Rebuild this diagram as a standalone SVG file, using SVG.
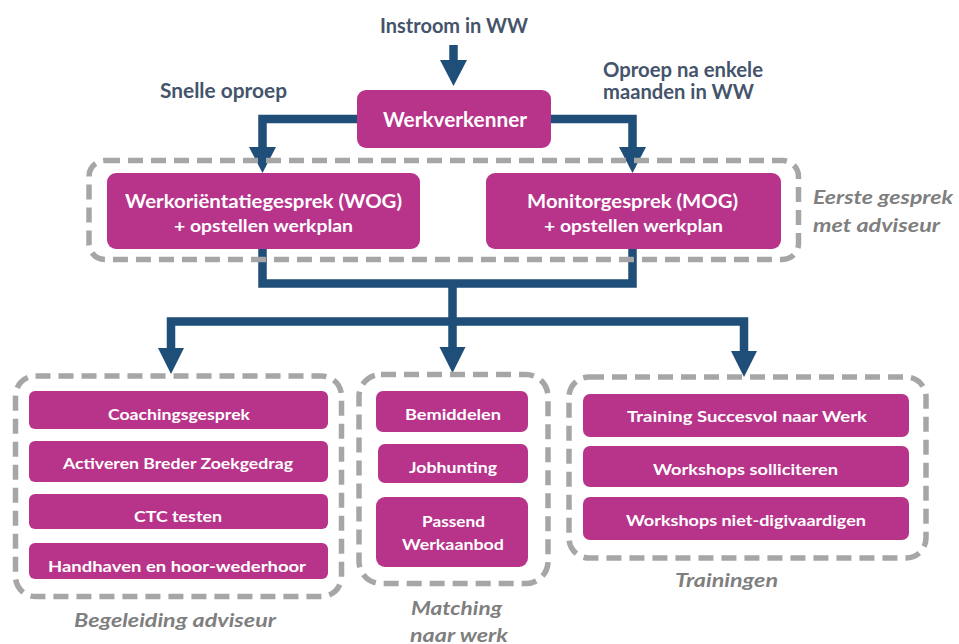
<svg xmlns="http://www.w3.org/2000/svg" width="959" height="644" viewBox="0 0 959 644">
<style>
.box{fill:#b8338a}
.bt{font-family:Lato,"Open Sans","Liberation Sans",sans-serif;font-weight:700;fill:#ffffff;text-anchor:middle}
.hd{font-family:Lato,"Open Sans","Liberation Sans",sans-serif;font-weight:700;fill:#44546a;text-anchor:middle;font-size:20px}
.grp{fill:none;stroke:#a6a6a6;stroke-width:5.5;stroke-dasharray:15 8}
.gl{font-family:Lato,"Open Sans","Liberation Sans",sans-serif;font-weight:700;font-style:italic;fill:#7f7f7f;text-anchor:middle;font-size:19px}
.ln{fill:none;stroke:#1f4e79;stroke-width:8.5}
.ah{fill:#1f4e79}
</style>
<rect width="959" height="644" fill="#ffffff"/>

<g id="labels">
<text class="hd" x="454" y="33" textLength="148" lengthAdjust="spacingAndGlyphs">Instroom in WW</text>
<text class="hd" x="223.5" y="98" textLength="127" lengthAdjust="spacingAndGlyphs">Snelle oproep</text>
<text class="hd" x="683" y="77" textLength="160" lengthAdjust="spacingAndGlyphs">Oproep na enkele</text>
<text class="hd" x="678.5" y="99" textLength="151" lengthAdjust="spacingAndGlyphs">maanden in WW</text>
</g>

<g id="connectors">
<path class="ln" d="M453.5,45 V62"/>
<polygon class="ah" points="440,60 467,60 453.5,86"/>
<path class="ln" d="M358,119 H262.5 V149"/>
<polygon class="ah" points="249,147 276,147 262.5,173"/>
<path class="ln" d="M550,119 H632.5 V149"/>
<polygon class="ah" points="619,147 646,147 632.5,173"/>
<path class="ln" d="M262.5,248 V283.5 H632.5 V248"/>
<path class="ln" d="M452.5,283.5 V321.5"/>
<path class="ln" d="M171,350 V321.5 H744 V352"/>
<path class="ln" d="M452.5,321.5 V349"/>
<polygon class="ah" points="158,348 184,348 171,374"/>
<polygon class="ah" points="439.5,347 465.5,347 452.5,373"/>
<polygon class="ah" points="731,351 757,351 744,377"/>
</g>

<g id="eerste-gesprek">
<rect class="grp" x="89" y="160.5" width="709.5" height="99" rx="16"/>
<text class="gl" x="883" y="204" textLength="140" lengthAdjust="spacingAndGlyphs">Eerste gesprek</text>
<text class="gl" x="876.5" y="232" textLength="127" lengthAdjust="spacingAndGlyphs">met adviseur</text>
</g>

<g id="werkverkenner">
<rect class="box" x="357" y="90" width="194" height="58" rx="9"/>
<text class="bt" x="455" y="127" font-size="20" textLength="144" lengthAdjust="spacingAndGlyphs">Werkverkenner</text>
</g>

<g id="wog">
<rect class="box" x="107" y="173" width="313" height="76" rx="9"/>
<text class="bt" x="263.5" y="208" font-size="19" textLength="277" lengthAdjust="spacingAndGlyphs">Werkoriëntatiegesprek (WOG)</text>
<text class="bt" x="263.5" y="232" font-size="17" textLength="179" lengthAdjust="spacingAndGlyphs">+ opstellen werkplan</text>
</g>

<g id="mog">
<rect class="box" x="486" y="173" width="295" height="76" rx="9"/>
<text class="bt" x="632.5" y="208" font-size="19" textLength="211" lengthAdjust="spacingAndGlyphs">Monitorgesprek (MOG)</text>
<text class="bt" x="633.5" y="232" font-size="17" textLength="179" lengthAdjust="spacingAndGlyphs">+ opstellen werkplan</text>
</g>

<g id="begeleiding-adviseur">
<rect class="grp" x="15.5" y="376" width="326" height="220.5" rx="20"/>
<text class="gl" x="175" y="627" textLength="202" lengthAdjust="spacingAndGlyphs">Begeleiding adviseur</text>
</g>
<g id="coachingsgesprek">
<rect class="box" x="29" y="391" width="299" height="38" rx="6"/>
<text class="bt" x="179" y="420" font-size="16" textLength="142" lengthAdjust="spacingAndGlyphs">Coachingsgesprek</text>
</g>
<g id="activeren">
<rect class="box" x="29" y="441" width="299" height="41" rx="6"/>
<text class="bt" x="178" y="469" font-size="16" textLength="230" lengthAdjust="spacingAndGlyphs">Activeren Breder Zoekgedrag</text>
</g>
<g id="ctc">
<rect class="box" x="29" y="494" width="299" height="35" rx="6"/>
<text class="bt" x="178" y="522" font-size="16" textLength="88" lengthAdjust="spacingAndGlyphs">CTC testen</text>
</g>
<g id="handhaven">
<rect class="box" x="29" y="543" width="299" height="36" rx="6"/>
<text class="bt" x="177" y="572" font-size="16" textLength="258" lengthAdjust="spacingAndGlyphs">Handhaven  en hoor-wederhoor</text>
</g>

<g id="matching-naar-werk">
<rect class="grp" x="359" y="374.5" width="189" height="209" rx="22"/>
<text class="gl" x="456.5" y="615" textLength="91" lengthAdjust="spacingAndGlyphs">Matching</text>
<text class="gl" x="459" y="642" textLength="98" lengthAdjust="spacingAndGlyphs">naar werk</text>
</g>
<g id="bemiddelen">
<rect class="box" x="376" y="391" width="152" height="41" rx="7"/>
<text class="bt" x="453" y="420" font-size="16" textLength="96" lengthAdjust="spacingAndGlyphs">Bemiddelen</text>
</g>
<g id="jobhunting">
<rect class="box" x="378" y="444" width="150" height="39" rx="7"/>
<text class="bt" x="453" y="473" font-size="16" textLength="88" lengthAdjust="spacingAndGlyphs">Jobhunting</text>
</g>
<g id="passend-werkaanbod">
<rect class="box" x="376" y="497" width="152" height="70" rx="9"/>
<text class="bt" x="453.5" y="527" font-size="16" textLength="63" lengthAdjust="spacingAndGlyphs">Passend</text>
<text class="bt" x="453" y="550" font-size="16" textLength="102" lengthAdjust="spacingAndGlyphs">Werkaanbod</text>
</g>

<g id="trainingen">
<rect class="grp" x="569" y="377" width="357" height="181" rx="20"/>
<text class="gl" x="726.5" y="587" textLength="103" lengthAdjust="spacingAndGlyphs">Trainingen</text>
</g>
<g id="training-succesvol">
<rect class="box" x="583" y="394" width="326" height="43" rx="7"/>
<text class="bt" x="747" y="422" font-size="16" textLength="240" lengthAdjust="spacingAndGlyphs">Training  Succesvol  naar  Werk</text>
</g>
<g id="workshops-solliciteren">
<rect class="box" x="583" y="446" width="326" height="41" rx="7"/>
<text class="bt" x="745.5" y="475" font-size="16" textLength="185" lengthAdjust="spacingAndGlyphs">Workshops  solliciteren</text>
</g>
<g id="workshops-digi">
<rect class="box" x="583" y="497" width="326" height="43" rx="7"/>
<text class="bt" x="746" y="526" font-size="16" textLength="240" lengthAdjust="spacingAndGlyphs">Workshops  niet-digivaardigen</text>
</g>
</svg>
